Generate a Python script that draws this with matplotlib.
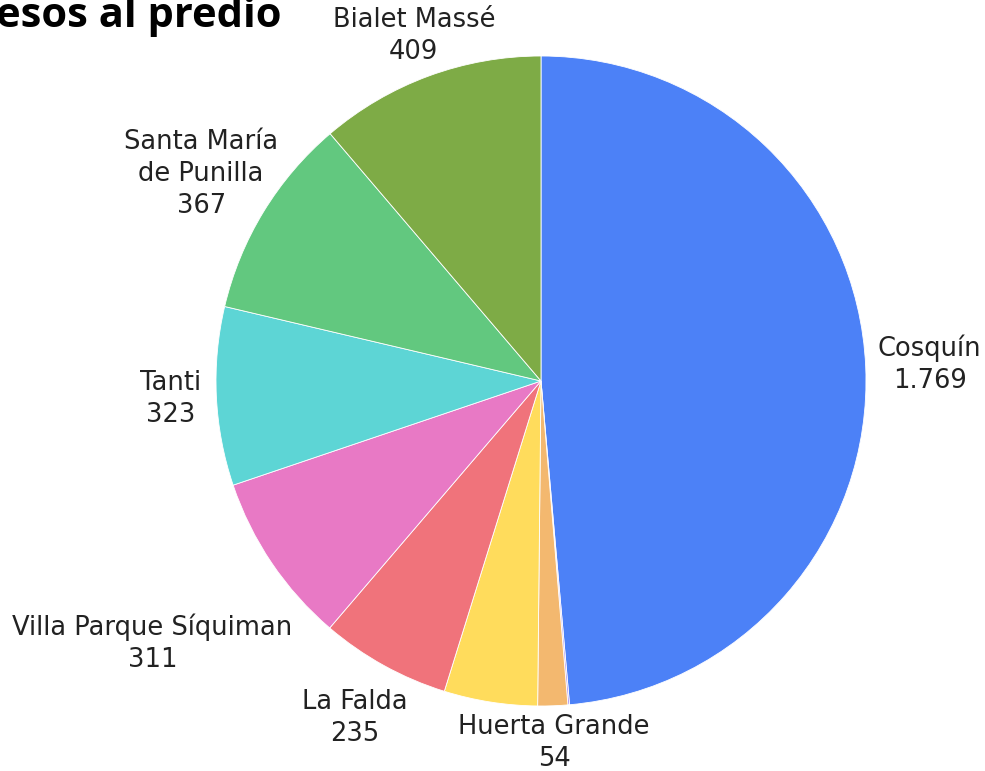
import matplotlib
matplotlib.use("Agg")
import matplotlib.pyplot as plt
import numpy as np

categories = ["Cosquín", "", "Huerta Grande", "", "La Falda", "Villa Parque Síquiman",
              "Tanti", "Santa María\nde Punilla", "Bialet Massé"]
values = [1769, 3, 54, 169, 235, 311, 323, 367, 409]
value_labels = ["1.769", "", "54", "", "235", "311", "323", "367", "409"]
colors = ["#4C81F7", "#A58CF5", "#F3B86F", "#FFDC5C", "#F0737B", "#E879C5",
          "#5DD5D5", "#62C87F", "#7EAB46"]
label_dist = [1.197, 1.1, 1.115, 1.1, 1.185, 1.443, 1.142, 1.225, 1.132]

W, H = 985, 771
fig = plt.figure(figsize=(W / 100, H / 100), dpi=100)
cx, cy, r = 541, 381, 325
ax = fig.add_axes([(cx - r) / W, (H - cy - r) / H, 2 * r / W, 2 * r / H])

wedges, _ = ax.pie(values, colors=colors, startangle=90, counterclock=False,
                   wedgeprops=dict(edgecolor="white", linewidth=0.6))
ax.set_xlim(-1, 1)
ax.set_ylim(-1, 1)
ax.set_aspect("equal")
ax.axis("off")

font = "DejaVu Sans"
for w, cat, vl, d in zip(wedges, categories, value_labels, label_dist):
    if not cat:
        continue
    mid = np.deg2rad((w.theta1 + w.theta2) / 2)
    x, y = d * np.cos(mid), d * np.sin(mid)
    ax.text(x, y, f"{cat}\n{vl}", ha="center", va="center", fontsize=18.5,
            family=font, color="#222222", linespacing=1.3, clip_on=False)

fig.text(281 / W, 1 - 27 / H, "esos al predio", ha="right", va="baseline",
         fontsize=30, fontweight="bold", family="Open Sans", color="black")

fig.savefig("out.png", dpi=100)
